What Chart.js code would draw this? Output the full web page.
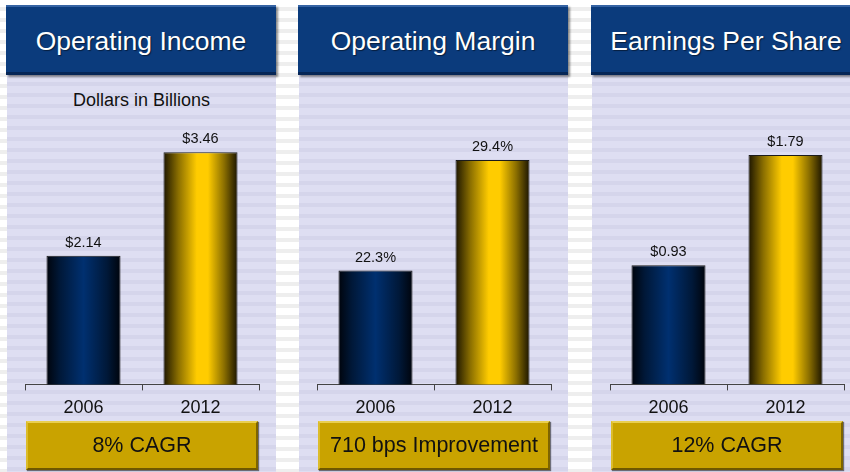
<!DOCTYPE html>
<html>
<head>
<meta charset="utf-8">
<script src="https://cdn.jsdelivr.net/npm/chart.js@4.4.0/dist/chart.umd.min.js"></script>
<style>
  html, body { margin: 0; padding: 0; }
  body {
    width: 850px; height: 472px; overflow: hidden; position: relative;
    font-family: Arial, "Liberation Sans", sans-serif;
    background: repeating-linear-gradient(to bottom, #ffffff 0px, #ffffff 7px, #eeeeee 7px, #eeeeee 11px);
  }
  .panel {
    position: absolute; top: 75px; width: 269px; height: 397px;
    background: repeating-linear-gradient(to bottom, #dedef2 0px, #dedef2 7px, #d5d5eb 7px, #d5d5eb 11px);
  }
  .head {
    position: absolute; top: 5px; width: 270px; height: 70px; box-sizing: border-box;
    background: #0b3b7c; color: #fff; font-size: 26.5px; line-height: 68px; text-align: center;
    border-top: 2px solid #3563a3; border-bottom: 3px solid #062656;
    box-shadow: 2px 2px 2px rgba(0,0,0,0.45);
    text-shadow: 1px 1px 1px rgba(0,0,0,0.5);
    white-space: nowrap;
  }
  .note {
    position: absolute; top: 421px; width: 232px; height: 49px; box-sizing: border-box;
    background: #c9a300; color: #111; font-size: 21.5px; line-height: 45px; text-align: center;
    border-top: 2px solid #e9cf50; border-left: 2px solid #dcbc2a;
    border-right: 2px solid #7d6400; border-bottom: 2px solid #6e5800;
    box-shadow: 1px 1px 1px rgba(0,0,0,0.5);
    white-space: nowrap;
  }
  .units {
    position: absolute; top: 90px; width: 269px; text-align: center;
    font-size: 18px; line-height: 20px; color: #111;
  }
  canvas { position: absolute; top: 75px; }
</style>
</head>
<body>
<script>
// chart values
const years = ['2006', '2012'];
const opIncome = [2.14, 3.46];   // $ billions
const opMargin = [22.3, 29.4];   // percent
const eps = [0.93, 1.79];        // $ per share

const panelTitles = ['Operating Income', 'Operating Margin', 'Earnings Per Share'];
const growthNotes = ['8% CAGR', '710 bps Improvement', '12% CAGR'];
const unitNote = 'Dollars in Billions';

const valuePrefix = ['$', '', '$'];
const valueSuffix = ['', '%', ''];
const valueDecimals = [2, 1, 2];

// value axis limits for each panel (axis itself is hidden)
const axisMin = [0.5, 15, 0];
const axisMax = [4.0, 32.6, 2.14];

const series = [opIncome, opMargin, eps];
const panelX = [7, 299, 592];
const BAR_PCT = 0.633;
const FONT = 'Arial, "Liberation Sans", sans-serif';

// horizontal "cylinder" shading for each year's bar
const barStops = [
  [[0, '#00040c'], [0.18, '#001838'], [0.5, '#003070'], [0.82, '#001838'], [1, '#00040c']],
  [[0, '#1c1500'], [0.2, '#8a6e00'], [0.45, '#ffcc00'], [0.6, '#ffcc00'], [0.82, '#8a6e00'], [1, '#1c1500']],
];

function barFill(c) {
  const chart = c.chart;
  const xs = chart.scales.x;
  if (c.type !== 'data' || !xs || !chart.chartArea) return '#888';
  const cx = xs.getPixelForValue(c.dataIndex);
  const half = xs.width / years.length * BAR_PCT / 2;
  const g = chart.ctx.createLinearGradient(cx - half, 0, cx + half, 0);
  barStops[c.dataIndex].forEach((s) => g.addColorStop(s[0], s[1]));
  return g;
}

function makeValueLabels(p) {
  return {
    id: 'valueLabels' + p,
    afterDatasetsDraw(chart) {
      const ctx = chart.ctx;
      const meta = chart.getDatasetMeta(0);
      ctx.save();
      ctx.font = '14.5px ' + FONT;
      ctx.fillStyle = '#111';
      ctx.textAlign = 'center';
      ctx.textBaseline = 'alphabetic';
      meta.data.forEach((bar, i) => {
        const v = series[p][i];
        ctx.fillText(valuePrefix[p] + v.toFixed(valueDecimals[p]) + valueSuffix[p], bar.x, bar.y - 9);
      });
      ctx.restore();
    },
  };
}

Chart.defaults.font.family = FONT;

for (let p = 0; p < 3; p++) {
  const panel = document.createElement('div');
  panel.className = 'panel';
  panel.style.left = panelX[p] + 'px';
  document.body.appendChild(panel);

  const head = document.createElement('div');
  head.className = 'head';
  head.style.left = (panelX[p] - 1) + 'px';
  head.textContent = panelTitles[p];
  document.body.appendChild(head);

  if (p === 0) {
    const units = document.createElement('div');
    units.className = 'units';
    units.style.left = panelX[p] + 'px';
    units.textContent = unitNote;
    document.body.appendChild(units);
  }

  const canvas = document.createElement('canvas');
  canvas.width = 269;
  canvas.height = 351;
  canvas.style.left = panelX[p] + 'px';
  document.body.appendChild(canvas);

  const note = document.createElement('div');
  note.className = 'note';
  note.style.left = (panelX[p] + 19) + 'px';
  note.textContent = growthNotes[p];
  document.body.appendChild(note);

  new Chart(canvas.getContext('2d'), {
    type: 'bar',
    data: {
      labels: years,
      datasets: [
        {
          data: series[p],
          backgroundColor: barFill,
          borderColor: '#1b1b1b',
          borderWidth: 1,
          categoryPercentage: 1,
          barPercentage: BAR_PCT,
        },
      ],
    },
    options: {
      responsive: false,
      animation: false,
      events: [],
      layout: { padding: { top: 35, left: 18, right: 17, bottom: 0 } },
      plugins: { legend: { display: false }, tooltip: { enabled: false } },
      scales: {
        x: {
          offset: true,
          grid: { offset: true, drawOnChartArea: false, drawTicks: true, tickLength: 6, color: '#444' },
          border: { display: true, color: '#444', width: 1 },
          ticks: { color: '#111', font: { size: 18 }, padding: 7 },
        },
        y: { display: false, min: axisMin[p], max: axisMax[p] },
      },
    },
    plugins: [makeValueLabels(p)],
  });
}
</script>
</body>
</html>
